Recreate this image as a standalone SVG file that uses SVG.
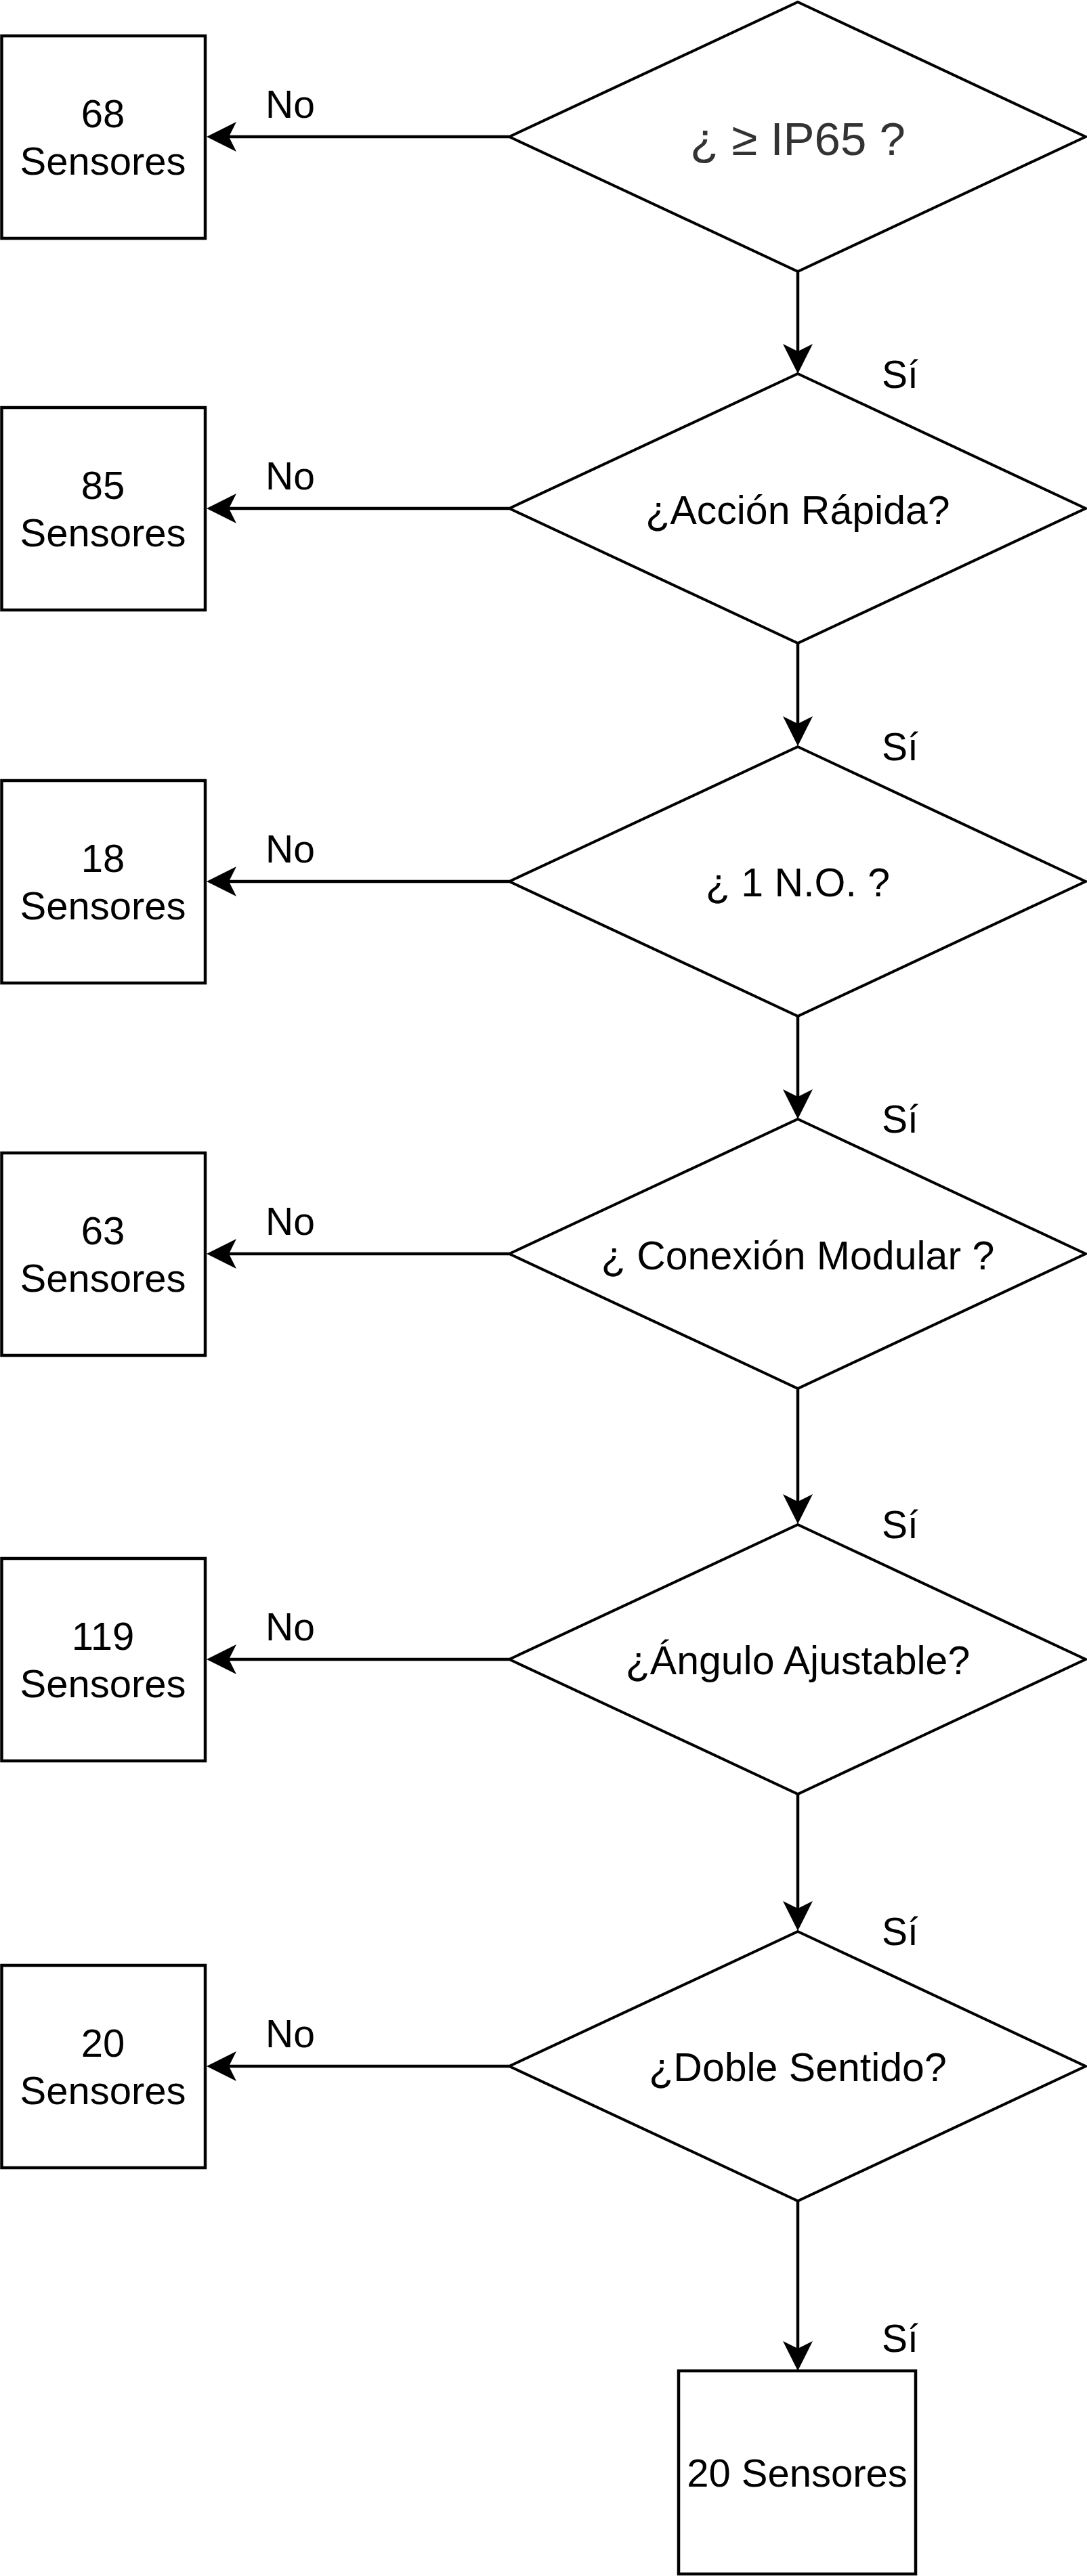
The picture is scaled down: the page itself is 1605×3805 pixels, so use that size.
<svg xmlns="http://www.w3.org/2000/svg" width="1605" height="3805" viewBox="0 0 1605 3805">
<style>
.box{fill:#fff;stroke:#000;stroke-width:4.5}
.dia{fill:#fff;stroke:#000;stroke-width:4}
.edge{fill:none;stroke:#000;stroke-width:4.5}
.t{font-family:"Liberation Sans",Arial,sans-serif;fill:#000;text-anchor:middle}
.bt{font-size:58px}
.dt{font-size:59px}
.lb{font-family:"Liberation Sans",Arial,sans-serif;fill:#000;font-size:57px}
</style>
<defs>
<marker id="arr" markerUnits="userSpaceOnUse" markerWidth="46" markerHeight="46" refX="34" refY="22" orient="auto" overflow="visible">
<path d="M44,22 L0,0 L11,22 L0,44 Z" fill="#000"/>
</marker>
</defs>
<rect width="1605" height="3805" fill="#fff"/>
<g id="connectors">
<line class="edge" x1="752" y1="202" x2="315" y2="202" marker-end="url(#arr)"/>
<line class="edge" x1="1178" y1="401" x2="1178" y2="542" marker-end="url(#arr)"/>
<line class="edge" x1="752" y1="751" x2="315" y2="751" marker-end="url(#arr)"/>
<line class="edge" x1="1178" y1="950" x2="1178" y2="1092" marker-end="url(#arr)"/>
<line class="edge" x1="752" y1="1302" x2="315" y2="1302" marker-end="url(#arr)"/>
<line class="edge" x1="1178" y1="1501" x2="1178" y2="1643" marker-end="url(#arr)"/>
<line class="edge" x1="752" y1="1852" x2="315" y2="1852" marker-end="url(#arr)"/>
<line class="edge" x1="1178" y1="2051" x2="1178" y2="2241" marker-end="url(#arr)"/>
<line class="edge" x1="752" y1="2451" x2="315" y2="2451" marker-end="url(#arr)"/>
<line class="edge" x1="1178" y1="2650" x2="1178" y2="2842" marker-end="url(#arr)"/>
<line class="edge" x1="752" y1="3052" x2="315" y2="3052" marker-end="url(#arr)"/>
<line class="edge" x1="1178" y1="3251" x2="1178" y2="3492" marker-end="url(#arr)"/>
<text class="lb" x="392" y="174">No</text>
<text class="lb" x="392" y="723">No</text>
<text class="lb" x="392" y="1274">No</text>
<text class="lb" x="392" y="1824">No</text>
<text class="lb" x="392" y="2423">No</text>
<text class="lb" x="392" y="3024">No</text>
<text class="lb" x="1302" y="573">Sí</text>
<text class="lb" x="1302" y="1123">Sí</text>
<text class="lb" x="1302" y="1673">Sí</text>
<text class="lb" x="1302" y="2272">Sí</text>
<text class="lb" x="1302" y="2873">Sí</text>
<text class="lb" x="1302" y="3474">Sí</text>
</g>
<g id="d1">
<polygon class="dia" points="1178,3 1603,202 1178,401 752,202"/>
<text class="t" x="1178" y="229" font-size="69" style="fill:#333">¿ ≥ IP65 ?</text>
</g>
<g id="d2">
<polygon class="dia" points="1178,552 1603,751 1178,950 752,751"/>
<text class="t dt" x="1178" y="774">¿Acción Rápida?</text>
</g>
<g id="d3">
<polygon class="dia" points="1178,1103 1603,1302 1178,1501 752,1302"/>
<text class="t dt" x="1178" y="1324">¿ 1 N.O. ?</text>
</g>
<g id="d4">
<polygon class="dia" points="1178,1653 1603,1852 1178,2051 752,1852"/>
<text class="t dt" x="1178" y="1875">¿ Conexión Modular ?</text>
</g>
<g id="d5">
<polygon class="dia" points="1178,2252 1603,2451 1178,2650 752,2451"/>
<text class="t dt" x="1178" y="2473">¿Ángulo Ajustable?</text>
</g>
<g id="d6">
<polygon class="dia" points="1178,2853 1603,3052 1178,3251 752,3052"/>
<text class="t dt" x="1178" y="3074">¿Doble Sentido?</text>
</g>
<g id="r1">
<rect class="box" x="2.5" y="53" width="300.5" height="299"/>
<text class="t bt" x="152" y="188">68</text>
<text class="t bt" x="152" y="258">Sensores</text>
</g>
<g id="r2">
<rect class="box" x="2.5" y="602" width="300.5" height="299"/>
<text class="t bt" x="152" y="737">85</text>
<text class="t bt" x="152" y="807">Sensores</text>
</g>
<g id="r3">
<rect class="box" x="2.5" y="1153" width="300.5" height="299"/>
<text class="t bt" x="152" y="1288">18</text>
<text class="t bt" x="152" y="1358">Sensores</text>
</g>
<g id="r4">
<rect class="box" x="2.5" y="1703" width="300.5" height="299"/>
<text class="t bt" x="152" y="1838">63</text>
<text class="t bt" x="152" y="1908">Sensores</text>
</g>
<g id="r5">
<rect class="box" x="2.5" y="2302" width="300.5" height="299"/>
<text class="t bt" x="152" y="2437">119</text>
<text class="t bt" x="152" y="2507">Sensores</text>
</g>
<g id="r6">
<rect class="box" x="2.5" y="2903" width="300.5" height="299"/>
<text class="t bt" x="152" y="3038">20</text>
<text class="t bt" x="152" y="3108">Sensores</text>
</g>
<g id="r7">
<rect class="box" x="1002" y="3502" width="350" height="300"/>
<text class="t bt" x="1177" y="3673">20 Sensores</text>
</g>
</svg>
